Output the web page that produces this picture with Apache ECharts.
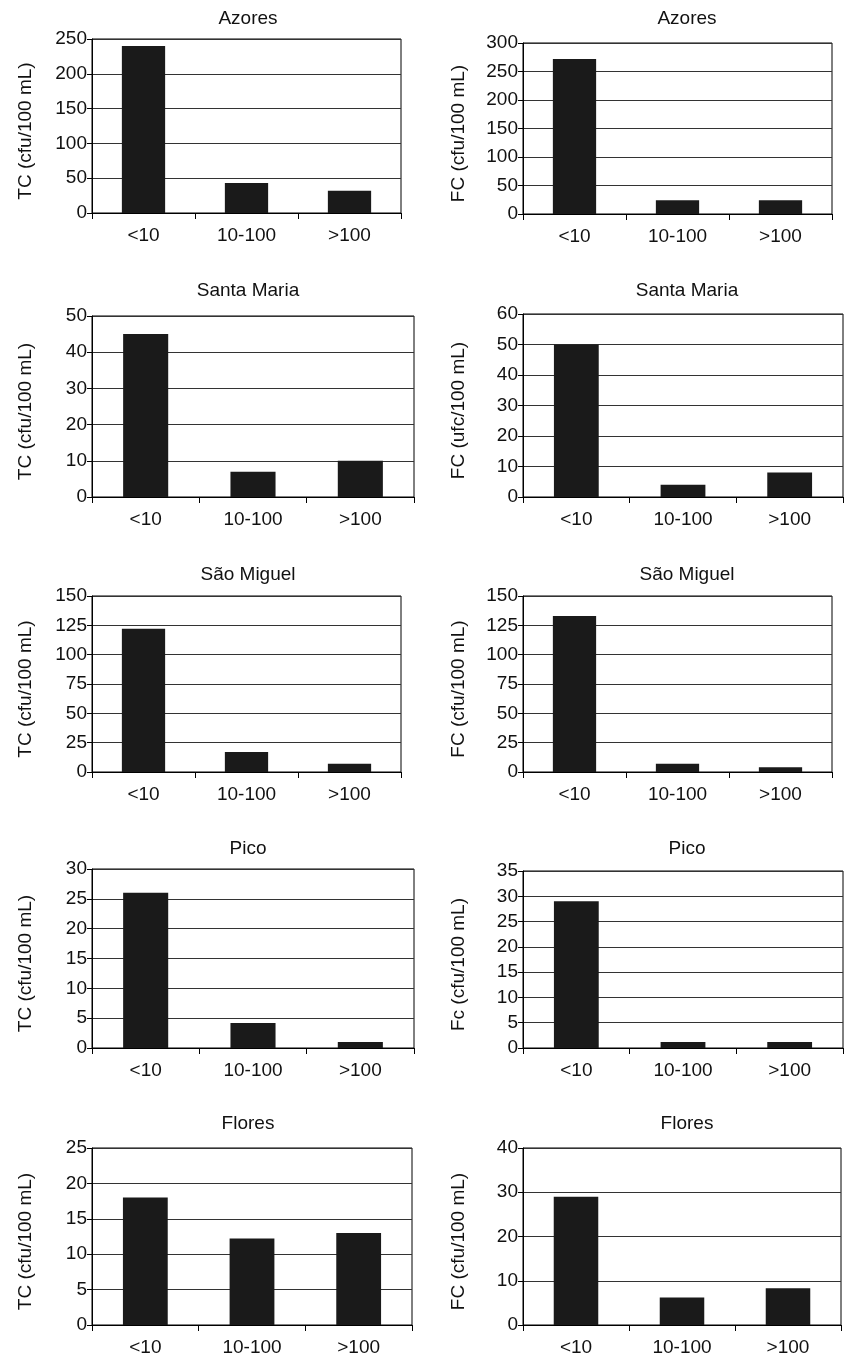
<!DOCTYPE html>
<html lang="en">
<head>
    <meta charset="UTF-8">
    <script type="text/javascript" src="https://cdn.jsdelivr.net/npm/echarts@6/dist/echarts.min.js"></script>
    <title>Azores coliforms</title>
    <style>
        html, body { margin: 0; padding: 0; background: #fff; }
        #chart { width: 845px; height: 1359px; }
    </style>
</head>
<body>
<div id="chart"></div>
<script type="text/javascript">
    // data
    var categories = ['<10', '10-100', '>100'];
    var islands = ['Azores', 'Santa Maria', 'São Miguel', 'Pico', 'Flores'];

    var tcAzores = [240, 43, 32];
    var tcSantaMaria = [45, 7, 10];
    var tcSaoMiguel = [122, 17, 7];
    var tcPico = [26, 4.2, 1];
    var tcFlores = [18, 12.2, 13];

    var fcAzores = [272, 24, 24];
    var fcSantaMaria = [50, 4, 8];
    var fcSaoMiguel = [133, 7, 4];
    var fcPico = [29, 1.2, 1.2];
    var fcFlores = [29, 6.2, 8.3];

    var tcMax = [250, 50, 150, 30, 25];
    var tcStep = [50, 10, 25, 5, 5];
    var fcMax = [300, 60, 150, 35, 40];
    var fcStep = [50, 10, 25, 5, 10];

    var tcNames = ['TC (cfu/100 mL)', 'TC (cfu/100 mL)', 'TC (cfu/100 mL)', 'TC (cfu/100 mL)', 'TC (cfu/100 mL)'];
    var fcNames = ['FC (cfu/100 mL)', 'FC (ufc/100 mL)', 'FC (cfu/100 mL)', 'Fc (cfu/100 mL)', 'FC (cfu/100 mL)'];

    var tcData = [tcAzores, tcSantaMaria, tcSaoMiguel, tcPico, tcFlores];
    var fcData = [fcAzores, fcSantaMaria, fcSaoMiguel, fcPico, fcFlores];

    // plot boxes (px)
    var leftBoxes = [
        {left: 92, top: 39, width: 309, height: 174},
        {left: 92, top: 316, width: 322, height: 181},
        {left: 92, top: 596, width: 309, height: 176},
        {left: 92, top: 869, width: 322, height: 179},
        {left: 92, top: 1148, width: 320, height: 177}
    ];
    var rightBoxes = [
        {left: 523, top: 43, width: 309, height: 171},
        {left: 523, top: 314, width: 320, height: 183},
        {left: 523, top: 596, width: 309, height: 176},
        {left: 523, top: 871, width: 320, height: 177},
        {left: 523, top: 1148, width: 318, height: 177}
    ];
    var titleY = [18, 290, 574, 848, 1123];

    var font = 'Liberation Sans, Arial, sans-serif';
    var ink = '#111';

    var grids = [], xAxes = [], yAxes = [], series = [], titles = [];

    function addPanel(box, titleX, titleTop, name, values, max, step, yName, gap) {
        var i = grids.length;
        grids.push({
            left: box.left, top: box.top, width: box.width, height: box.height,
            show: true, borderColor: '#000', borderWidth: 1
        });
        titles.push({
            text: name, left: titleX, top: titleTop, textAlign: 'center', padding: 0,
            textStyle: {fontFamily: font, fontSize: 19, fontWeight: 'normal', color: ink}
        });
        xAxes.push({
            type: 'category', gridIndex: i, data: categories,
            axisLine: {lineStyle: {color: '#000', width: 1}},
            axisTick: {show: true, length: 6, lineStyle: {color: '#000'}},
            axisLabel: {margin: 13, fontFamily: font, fontSize: 19, color: ink},
            splitLine: {show: false}
        });
        yAxes.push({
            type: 'value', gridIndex: i, min: 0, max: max, interval: step,
            name: yName, nameLocation: 'middle', nameGap: gap,
            nameTextStyle: {fontFamily: font, fontSize: 19, color: ink, padding: [0, 10, 0, 0]},
            axisLine: {show: true, lineStyle: {color: '#000', width: 1}},
            axisTick: {show: true, length: 5, lineStyle: {color: '#000'}},
            axisLabel: {margin: 5, fontFamily: font, fontSize: 19, color: ink},
            splitLine: {show: true, lineStyle: {color: '#333', width: 1}}
        });
        series.push({
            type: 'bar', xAxisIndex: i, yAxisIndex: i, data: values,
            barWidth: '42%',
            itemStyle: {color: '#1a1a1a'},
            silent: true
        });
    }

    for (var k = 0; k < islands.length; k++) {
        addPanel(leftBoxes[k], 248, titleY[k] - 9, islands[k], tcData[k], tcMax[k], tcStep[k], tcNames[k], 57);
        addPanel(rightBoxes[k], 687, titleY[k] - 9, islands[k], fcData[k], fcMax[k], fcStep[k], fcNames[k], 55);
    }

    var chart = echarts.init(document.getElementById('chart'), null, {renderer: 'canvas'});
    chart.setOption({
        animation: false,
        backgroundColor: '#fff',
        title: titles,
        grid: grids,
        xAxis: xAxes,
        yAxis: yAxes,
        series: series
    });
</script>
</body>
</html>
